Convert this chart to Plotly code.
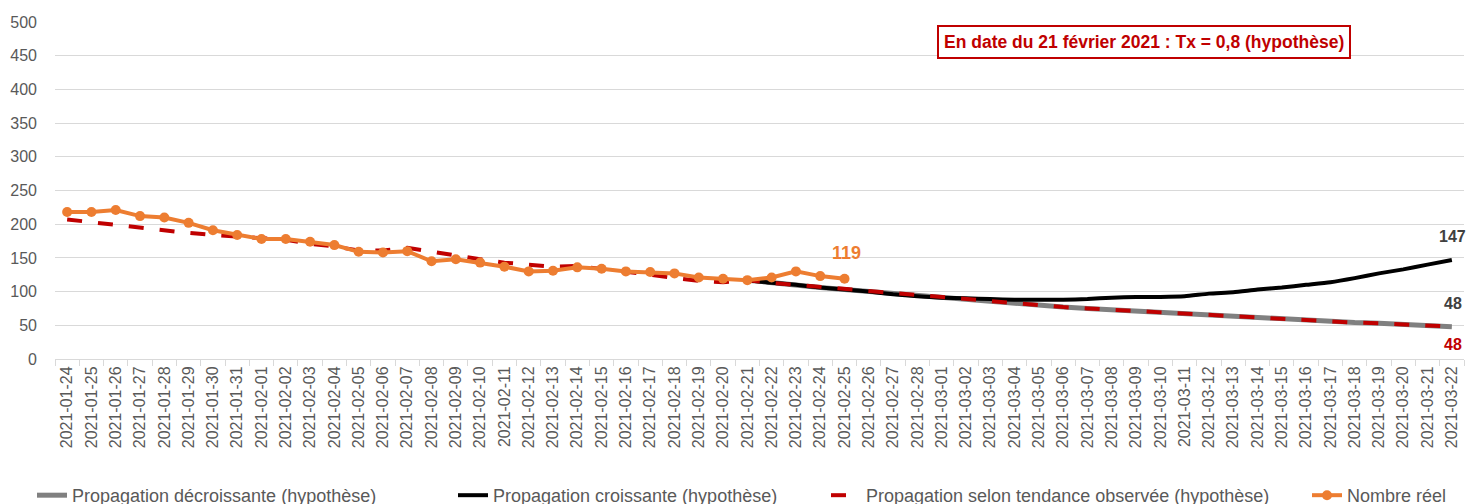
import pandas as pd
import plotly.graph_objects as go

dates = [d.strftime("%Y-%m-%d") for d in pd.date_range("2021-01-24", "2021-03-22")]

# Nombre réel (2021-01-24 .. 2021-02-25)
reel = [218, 218, 221, 212, 210, 202, 191, 184, 178, 178, 174, 169, 159, 158, 160,
        145, 148, 143, 137, 130, 131, 136, 134, 130, 129, 127, 121, 119, 117, 121,
        130, 123, 119]

# Propagation selon tendance observée (2021-01-24 .. 2021-03-22)
tendance = [207, 203, 198, 194, 190, 187, 184, 182, 179, 177, 171, 167, 161, 161, 165,
            159, 154, 148, 143, 140, 137, 138, 134, 130, 125, 120, 116, 114, 117,
            113, 110, 106, 103, 100, 97, 94, 91, 89, 86, 83, 80, 77, 75, 73, 71, 69,
            67, 65, 63, 61, 59, 57, 56, 54, 53, 51, 50, 48]

# Propagation décroissante (2021-02-21 .. 2021-03-22)
decroissante = [117, 113, 110, 106, 103, 100, 97, 94, 91, 89, 86, 83, 80, 77, 75, 73,
                71, 69, 67, 65, 63, 61, 59, 57, 56, 54, 53, 51, 50, 48]

# Propagation croissante (2021-02-21 .. 2021-03-22)
croissante = [117, 113, 110, 106, 103, 100, 96, 93, 91, 90, 89, 88, 88, 88, 89, 91,
              92, 92, 93, 97, 99, 103, 106, 110, 114, 120, 127, 133, 140, 147]

yticks = list(range(0, 501, 50))

proj_dates = dates[28:]
reel_dates = dates[:len(reel)]

fig = go.Figure()
fig.add_trace(go.Scatter(x=proj_dates, y=decroissante, mode="lines",
                         name="Propagation décroissante (hypothèse)",
                         line=dict(color="#808080", width=5), legend="legend",
                         showlegend=True))
fig.add_trace(go.Scatter(x=proj_dates, y=croissante, mode="lines",
                         name="Propagation croissante (hypothèse)",
                         line=dict(color="#000000", width=4, shape="spline", smoothing=0.6),
                         legend="legend2", showlegend=True))
fig.add_trace(go.Scatter(x=dates, y=tendance, mode="lines",
                         name="Propagation selon tendance observée (hypothèse)",
                         line=dict(color="#C00000", width=4, dash="15px,16px"),
                         legend="legend3", showlegend=True))
fig.add_trace(go.Scatter(x=reel_dates, y=reel, mode="lines+markers",
                         name="Nombre réel",
                         line=dict(color="#ED7D31", width=4),
                         marker=dict(color="#ED7D31", size=10),
                         legend="legend4", showlegend=True))

lab_font = dict(family="Liberation Sans", size=16)
fig.add_annotation(x=reel_dates[-1], y=reel[-1], text="<b>%d</b>" % reel[-1], showarrow=False,
                   yshift=26, xshift=2, font=dict(lab_font, color="#ED7D31", size=18))
fig.add_annotation(x=dates[-1], y=croissante[-1], text="<b>%d</b>" % croissante[-1], showarrow=False,
                   yshift=23, xshift=1, font=dict(lab_font, color="#404040"))
fig.add_annotation(x=dates[-1], y=decroissante[-1], text="<b>%d</b>" % decroissante[-1], showarrow=False,
                   yshift=23, xshift=1, font=dict(lab_font, color="#404040"))
fig.add_annotation(x=dates[-1], y=tendance[-1], text="<b>%d</b>" % tendance[-1], showarrow=False,
                   yshift=-18, xshift=1, font=dict(lab_font, color="#C00000"))
fig.add_annotation(xref="paper", yref="paper", x=0.773, y=0.941, xanchor="center", yanchor="middle",
                   text="<b>En date du 21 février 2021 : Tx = 0,8 (hypothèse)</b>",
                   showarrow=False, bgcolor="white", bordercolor="#C00000", borderwidth=2,
                   borderpad=5, font=dict(family="Liberation Sans", size=17.5, color="#C00000"))

leg_common = dict(orientation="h", yref="paper", y=-0.405, yanchor="middle",
                  xanchor="left", bgcolor="rgba(0,0,0,0)",
                  font=dict(family="Liberation Sans", size=18, color="#595959"))
W = 1409.0
fig.update_layout(
    width=1466, height=504, showlegend=True,
    margin=dict(l=55, r=2, t=22, b=145, autoexpand=False),
    plot_bgcolor="white", paper_bgcolor="white",
    legend=dict(leg_common, x=(32 - 55) / W),
    legend2=dict(leg_common, x=(453 - 55) / W),
    legend3=dict(leg_common, x=(826 - 55) / W),
    legend4=dict(leg_common, x=(1307 - 55) / W),
    xaxis=dict(type="category", categoryorder="array", categoryarray=dates,
               range=[-0.5, len(dates) - 0.5],
               tickangle=-90, tickson="boundaries", ticks="outside", ticklen=6,
               tickcolor="#d9d9d9", showgrid=False, showline=True, linecolor="#d9d9d9",
               linewidth=1, tickfont=dict(family="Liberation Sans", size=16, color="#595959"),
               automargin=False),
    yaxis=dict(range=[0, 500], tickvals=yticks, showgrid=True, gridcolor="#d9d9d9",
               gridwidth=1, zeroline=False, ticks="", ticklabelstandoff=17,
               tickfont=dict(family="Liberation Sans", size=16, color="#595959"),
               automargin=False),
)

fig.write_html("out.html", config={"displayModeBar": False},
               post_script="document.body.style.margin='0';document.body.style.overflow='hidden';")
